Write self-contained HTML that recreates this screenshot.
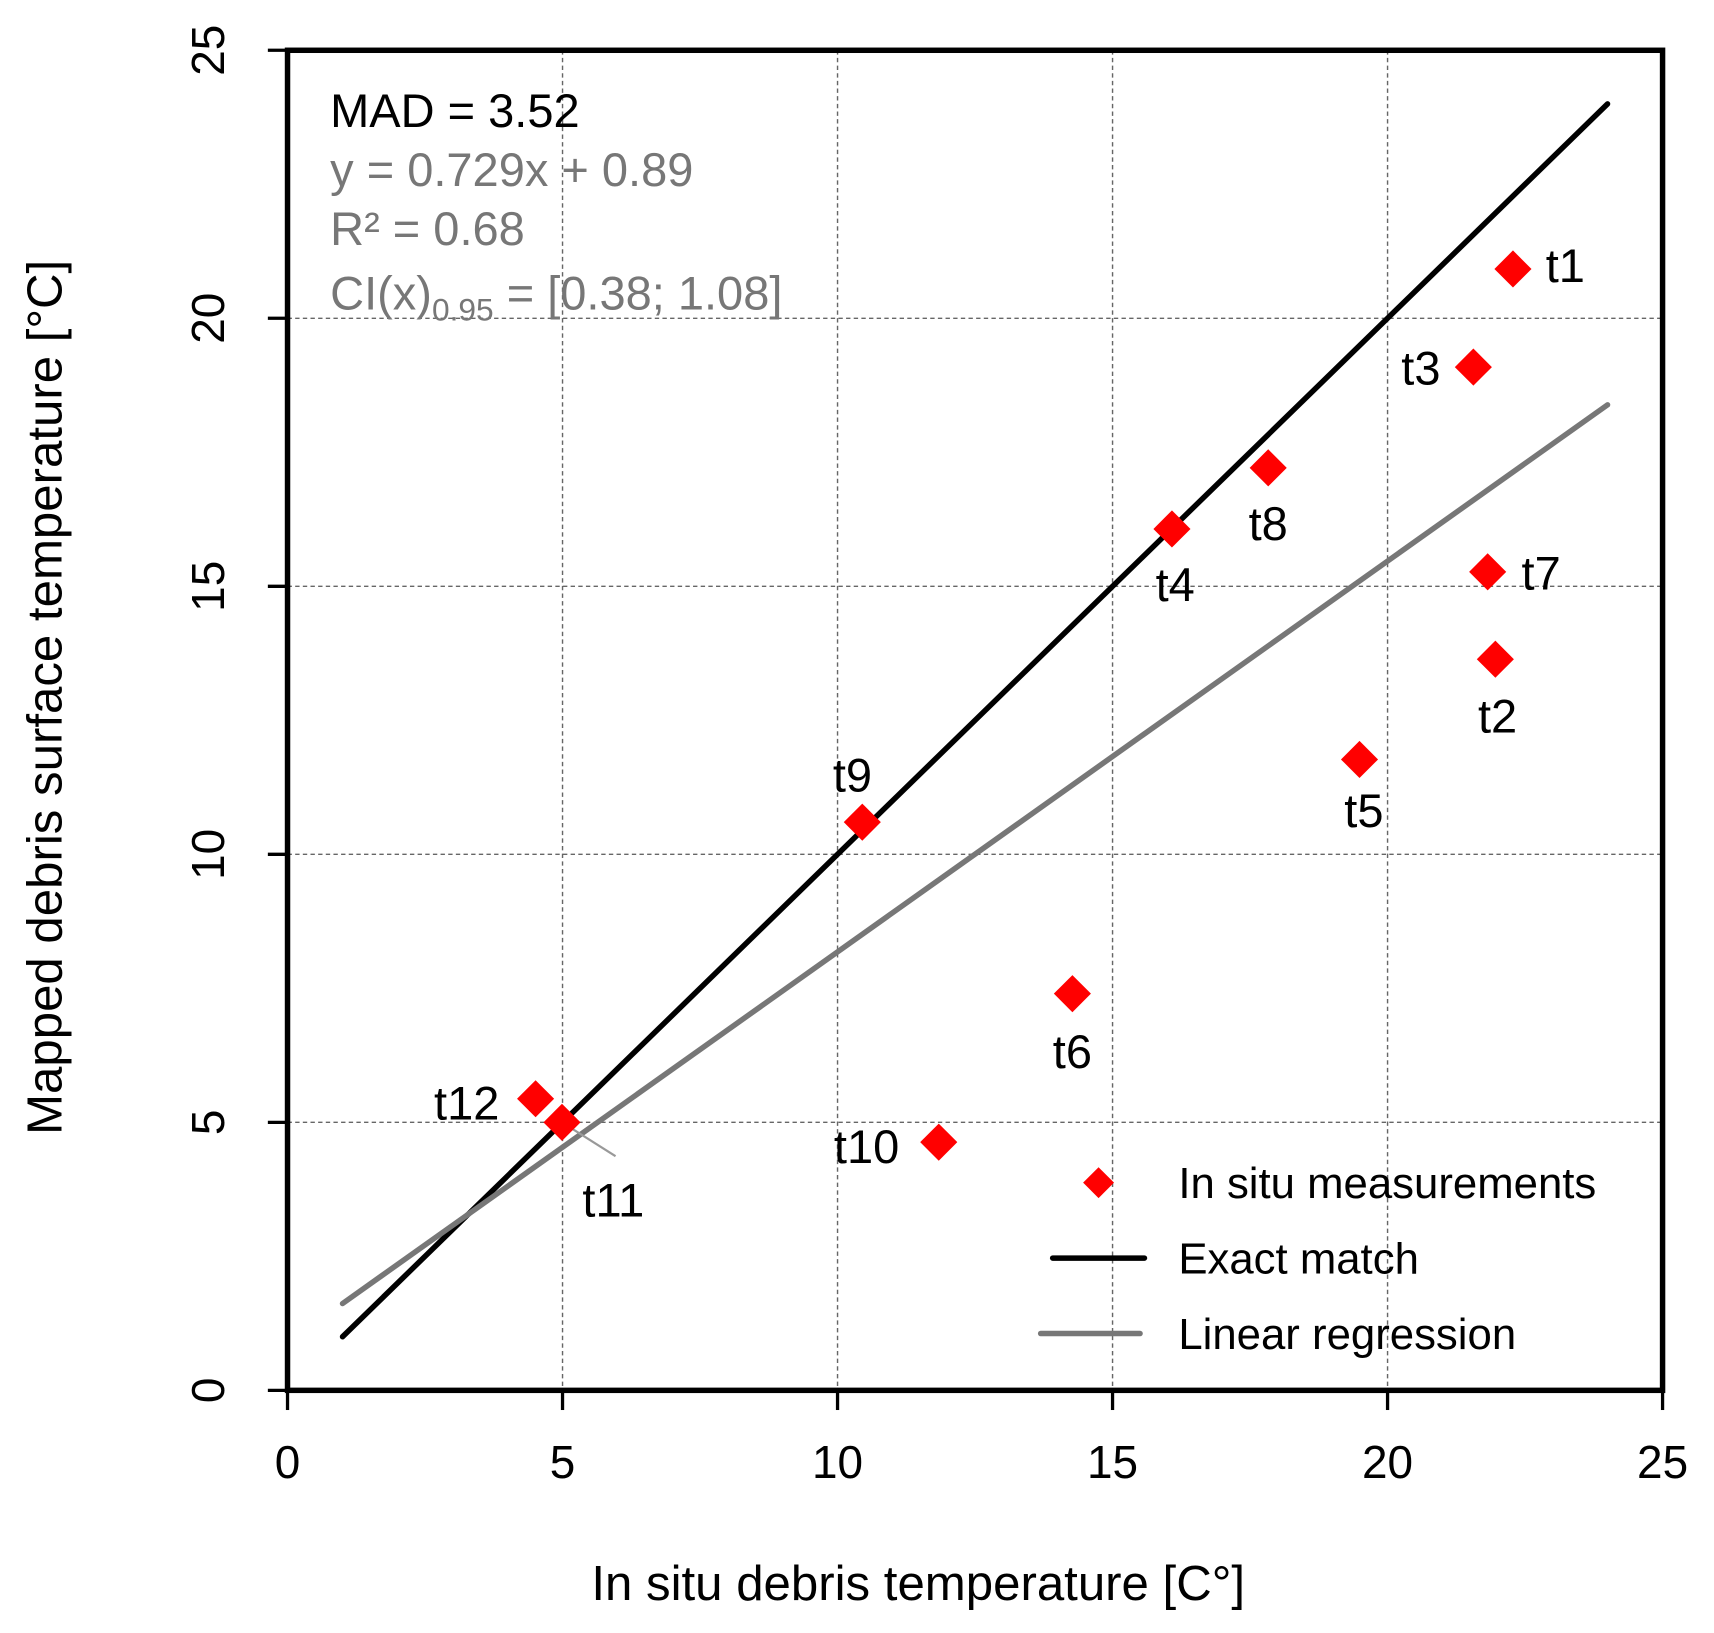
<!DOCTYPE html>
<html><head><meta charset="utf-8"><style>html,body{margin:0;padding:0;background:#fff}svg{display:block}text{font-family:"Liberation Sans",sans-serif}</style></head>
<body>
<svg width="1714" height="1633" viewBox="0 0 1568 1494">
<g id="grid"></g>
<g id="lines"></g>
<g id="pts"></g>
<rect x="263" y="46" width="1258" height="1226" fill="none" stroke="#000" stroke-width="5"/>
<g id="ticks"></g>
<text x="302" y="116" font-size="43" fill="#000">MAD = 3.52</text>
<text x="302" y="170" font-size="43" fill="#777">y = 0.729x + 0.89</text>
<text x="302" y="224" font-size="43" fill="#777">R² = 0.68</text>
<text x="302" y="283" font-size="43" fill="#777">CI(x)<tspan font-size="29" dy="10">0.95</tspan><tspan dy="-10"> = [0.38; 1.08]</tspan></text>
<text x="840" y="1464" font-size="45" text-anchor="middle">In situ debris temperature [C°]</text>
<text transform="translate(56,638) rotate(-90)" font-size="45" text-anchor="middle">Mapped debris surface temperature [°C]</text>
<g>
<rect x="995" y="1072" width="20" height="20" transform="rotate(45 1005 1082)" fill="#f00"/>
<text x="1078" y="1096" font-size="40">In situ measurements</text>
<line x1="963" y1="1151" x2="1047" y2="1151" stroke="#000" stroke-width="5" stroke-linecap="round"/>
<text x="1078" y="1165" font-size="40">Exact match</text>
<line x1="952" y1="1220" x2="1043" y2="1220" stroke="#777" stroke-width="5" stroke-linecap="round"/>
<text x="1078" y="1234" font-size="40">Linear regression</text>
</g>
</svg>
<script>
const names=["t1","t2","t3","t4","t5","t6","t7","t8","t9","t10","t11","t12"];
const xVals=[22.28,21.96,21.56,16.08,19.49,14.27,21.82,17.83,10.45,11.84,4.99,4.51];
const yVals=[20.92,13.64,19.09,16.07,11.77,7.40,15.27,17.21,10.60,4.63,5.00,5.44];
const ticks=[0,5,10,15,20,25];
const slope=0.729, intercept=0.89, lineRange=[1,24];
const NS="http://www.w3.org/2000/svg";
const X=v=>263+v*1258/25, Y=v=>1272-v*1226/25;
const lab={t1:[30,12,"start"],t2:[2,67,"middle"],t3:[-48,16,"middle"],t4:[3,66,"middle"],t5:[4,62,"middle"],t6:[0,68,"middle"],t7:[31,16,"start"],t8:[0,66,"middle"],t9:[-9,-28,"middle"],t10:[-66,19,"middle"],t11:[47,86,"middle"],t12:[-63,19,"middle"]};
function mk(t,a,p){const e=document.createElementNS(NS,t);for(const k in a)e.setAttribute(k,a[k]);p.appendChild(e);return e;}
const grid=document.getElementById('grid'),tk=document.getElementById('ticks');
ticks.forEach(v=>{
 if(v>0&&v<25){
  let g=mk('line',{x1:X(v),x2:X(v),y1:46,y2:1272,stroke:'#666','stroke-width':1.3,'stroke-dasharray':'4 3'},grid);
  
  
  g=mk('line',{x1:263,x2:1521,y1:Y(v),y2:Y(v),stroke:'#666','stroke-width':1.3,'stroke-dasharray':'4 3'},grid);
  
  
 }
 let t=mk('line',{x1:X(v),x2:X(v),y1:1272,y2:1290,stroke:'#000','stroke-width':3},tk);
 
 
 t=mk('line',{x1:245,x2:263,y1:Y(v),y2:Y(v),stroke:'#000','stroke-width':3},tk);
 
 
 let l=mk('text',{x:X(v),y:1352,'font-size':42,'text-anchor':'middle'},tk);l.textContent=v;
 
 
 l=mk('text',{transform:`translate(205,${Y(v)}) rotate(-90)`,'font-size':42,'text-anchor':'middle'},tk);l.textContent=v;
 
 
});
const lines=document.getElementById('lines');
let e=mk('line',{x1:X(lineRange[0]),y1:Y(lineRange[0]),x2:X(lineRange[1]),y2:Y(lineRange[1]),stroke:'#000','stroke-width':5,'stroke-linecap':'round'},lines);


e=mk('line',{x1:X(lineRange[0]),y1:Y(slope*lineRange[0]+intercept),x2:X(lineRange[1]),y2:Y(slope*lineRange[1]+intercept),stroke:'#777','stroke-width':5,'stroke-linecap':'round'},lines);


const pts=document.getElementById('pts');
names.forEach((n,i)=>{
 const cx=X(xVals[i]),cy=Y(yVals[i]);
 if(n==='t11'){const ld=mk('line',{x1:cx,y1:cy,x2:cx+49,y2:cy+31,stroke:'#999','stroke-width':2},pts);
  
  }
 const p=mk('rect',{x:cx-12,y:cy-12,width:24,height:24,fill:'#f00',transform:`rotate(45 ${cx} ${cy})`},pts);
 
 
 const o=lab[n];
 const t=mk('text',{x:cx+o[0],y:cy+o[1],'font-size':43,'text-anchor':o[2]},pts);t.textContent=n;
 
 
});
</script>
</body></html>
